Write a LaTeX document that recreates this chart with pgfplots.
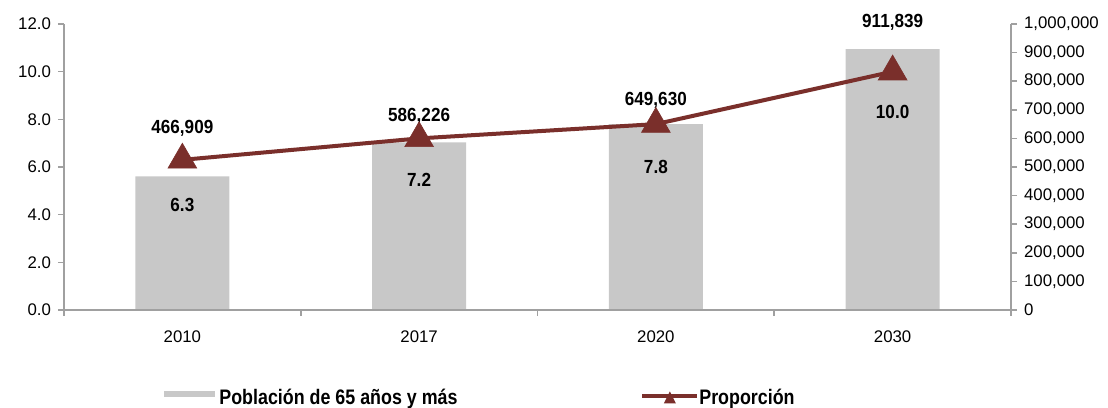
\documentclass[border=0pt]{standalone}
\usepackage{pgfplots}
\pgfplotsset{compat=1.18}
\usepackage{fontspec}
\setmainfont{Liberation Sans}
\newfontfamily\labfont[FakeStretch=0.9]{Liberation Sans}
\newfontfamily\legfont[FakeStretch=0.85]{Liberation Sans}
\definecolor{barcol}{RGB}{200,200,200}
\definecolor{linecol}{RGB}{122,47,43}
\definecolor{axcol}{RGB}{160,160,160}
\tikzset{lab/.style={font=\labfont\bfseries\fontsize{9.5}{11}\selectfont}}
\begin{document}
\begin{tikzpicture}
\pgfplotsset{
  base/.style={scale only axis, width=473.5pt, height=143pt, xmin=-0.5, xmax=3.5, ymin=0,
    axis line style={axcol, line width=0.8pt}, tick style={axcol, line width=0.8pt},
    tick align=outside, major tick length=3pt,
    /pgf/number format/assume math mode=true,
    ticklabel style={font=\fontsize{8.4}{10}\selectfont},
    clip=false},
  leg/.style={legend cell align=left,
    legend style={anchor=south west, draw=none, fill=none, inner sep=0pt,
    font=\legfont\bfseries\fontsize{10.5}{12}\selectfont,
    cells={anchor=base west, inner sep=0pt}}},
}
\begin{axis}[base, leg, ymax=1000000, axis y line*=right, axis x line=none,
  ytick={0,100000,200000,300000,400000,500000,600000,700000,800000,900000,1000000},
  scaled y ticks=false,
  yticklabel style={/pgf/number format/fixed, /pgf/number format/1000 sep={,}},
  legend style={at={(0.1056,-0.358)}, /tikz/every odd column/.append style={column sep=0pt}},
]
\addplot[ybar, bar width=47pt, fill=barcol, draw=none,
  legend image code/.code={\path[fill=barcol, draw=none] (0pt,3.75pt) rectangle (25.5pt,6.75pt);}]
  coordinates {(0,466909) (1,586226) (2,649630) (3,911839)};
\addlegendentry{Población de 65 años y más}
\end{axis}
\begin{axis}[base, leg, ymax=12, axis y line*=left, axis x line*=bottom,
  ytick={0,2,4,6,8,10,12},
  yticklabel style={/pgf/number format/fixed, /pgf/number format/fixed zerofill, /pgf/number format/precision=1},
  xtick={-0.5,0.5,1.5,2.5,3.5}, x tick label as interval,
  xticklabels={2010,2017,2020,2030},
  xticklabel style={yshift=-4pt},
  legend style={at={(0.6082,-0.358)}, /tikz/every odd column/.append style={column sep=-2pt}},
]
\addplot[linecol, line width=2pt, mark=triangle*, mark size=8.3pt,
  mark options={solid, fill=linecol, draw=linecol, line width=0.3pt},
  legend image code/.code={\path[draw=linecol, line width=2pt] (0pt,4.25pt) -- (27.5pt,4.25pt);
    \path[fill=linecol, draw=none] (10.75pt,0.75pt) -- (16.75pt,0.75pt) -- (13.75pt,6.75pt) -- cycle;}]
  coordinates {(0,6.3) (1,7.2) (2,7.8) (3,10.0)};
\addlegendentry{Proporción}
\node[lab] at (axis cs:0,7.64) {466,909};
\node[lab] at (axis cs:1,8.14) {586,226};
\node[lab] at (axis cs:2,8.81) {649,630};
\node[lab] at (axis cs:3,12.09) {911,839};
\node[lab] at (axis cs:0,4.41) {6.3};
\node[lab] at (axis cs:1,5.46) {7.2};
\node[lab] at (axis cs:2,6.0) {7.8};
\node[lab] at (axis cs:3,8.31) {10.0};
\end{axis}
\pgfresetboundingbox
\path (-32pt,-48.5pt) rectangle (522pt,155pt);
\end{tikzpicture}
\end{document}
